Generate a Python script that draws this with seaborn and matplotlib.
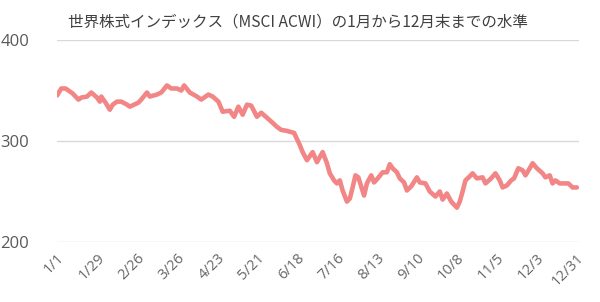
import matplotlib
matplotlib.use("Agg")
import matplotlib.pyplot as plt
import seaborn as sns
import pandas as pd

title = "世界株式インデックス（MSCI ACWI）の1月から12月末までの水準"
year = 2022

dates = [
    "01-01", "01-04", "01-07", "01-09", "01-12", "01-16", "01-18", "01-22", "01-25", "01-29", "01-31",
    "02-01", "02-04", "02-07", "02-09", "02-12", "02-15", "02-19", "02-21", "02-24", "02-27",
    "03-01", "03-05", "03-07", "03-12", "03-15", "03-19", "03-22", "03-26", "03-29", "03-31",
    "04-04", "04-09", "04-12", "04-14", "04-17", "04-20", "04-24", "04-27",
    "05-02", "05-05", "05-08", "05-11", "05-14", "05-17", "05-21", "05-24", "05-28",
    "06-01", "06-04", "06-07", "06-11", "06-16", "06-18", "06-20", "06-22", "06-25", "06-29",
    "07-02", "07-06", "07-09", "07-11", "07-14", "07-16", "07-18", "07-20", "07-23", "07-25", "07-27", "07-29", "07-31",
    "08-04", "08-06", "08-09", "08-11", "08-13", "08-17", "08-20", "08-22", "08-24", "08-27", "08-29",
    "09-01", "09-03", "09-06", "09-10", "09-12", "09-16", "09-19", "09-23", "09-26", "09-28",
    "10-01", "10-04", "10-08", "10-10", "10-12", "10-14", "10-17", "10-19", "10-22", "10-26", "10-28",
    "11-01", "11-04", "11-07", "11-09", "11-12", "11-15", "11-17", "11-20", "11-23", "11-25", "11-28", "11-30",
    "12-03", "12-07", "12-09", "12-12", "12-14", "12-16", "12-19", "12-22", "12-25", "12-28", "12-31",
]

values = [
    345, 352, 352, 350, 347, 341, 343, 344, 348, 343,
    339, 344, 338, 331, 336, 339, 339, 336, 334, 336,
    338, 341, 348, 344, 346, 348, 355, 352, 352, 350,
    355, 348, 344, 341, 343, 346, 344, 339, 329, 330,
    324, 334, 326, 336, 335, 324, 328, 323, 318, 314,
    311, 310, 308, 302, 296, 289, 281, 289, 279, 289,
    278, 268, 261, 258, 261, 251, 240, 243, 254, 266,
    264, 246, 258, 266, 259, 262, 269, 269, 277, 273,
    269, 263, 259, 251, 255, 264, 259, 258, 250, 245,
    250, 242, 248, 240, 234, 240, 250, 261, 265, 268,
    263, 264, 258, 263, 268, 261, 254, 256, 261, 263,
    273, 271, 266, 273, 278, 273, 268, 264, 266, 258,
    261, 258, 258, 258, 254, 254,
]

tick_labels = ["1/1", "1/29", "2/26", "3/26", "4/23", "5/21", "6/18",
               "7/16", "8/13", "9/10", "10/8", "11/5", "12/3", "12/31"]
y_ticks = [200, 300, 400]

sns.set_theme(style="white")
plt.rcParams["font.family"] = ["Noto Sans CJK JP", "DejaVu Sans"]

start = pd.Timestamp(f"{year}-01-01")
df = pd.DataFrame({
    "day": [(pd.Timestamp(f"{year}-{d}") - start).days for d in dates],
    "value": values,
})
tick_pos = [(pd.Timestamp(f"{year}/{t}") - start).days for t in tick_labels]

fig = plt.figure(figsize=(6.0, 3.02), dpi=100)
ax = fig.add_axes([57 / 600, 1 - 242 / 302, (579 - 57) / 600, (242 - 40) / 302])

sns.lineplot(data=df, x="day", y="value", ax=ax, color="#F28686",
             linewidth=3.3, solid_joinstyle="round", solid_capstyle="round")

ax.set_xlim(0, 365.5)
ax.set_ylim(200, 400)
ax.set_yticks(y_ticks)
ax.set_yticklabels([str(v) for v in y_ticks], fontsize=12, color="#595959",
                   family=["Open Sans", "DejaVu Sans"])
ax.set_xticks(tick_pos)
ax.set_xticklabels(tick_labels, rotation=45, ha="right", rotation_mode="anchor",
                   fontsize=10.5, color="#666666", family=["Open Sans", "DejaVu Sans"])
ax.tick_params(axis="y", length=0, pad=20)
ax.tick_params(axis="x", length=0, pad=6)
ax.grid(axis="y", color="#d9d9d9", linewidth=1)
ax.grid(axis="x", visible=False)
for s in ax.spines.values():
    s.set_visible(False)
ax.set_xlabel("")
ax.set_ylabel("")

fig.text(68 / 600, 1 - 22 / 302, title, ha="left", va="center",
         fontsize=11.2, color="#404040")

fig.savefig("out.png", dpi=100)
